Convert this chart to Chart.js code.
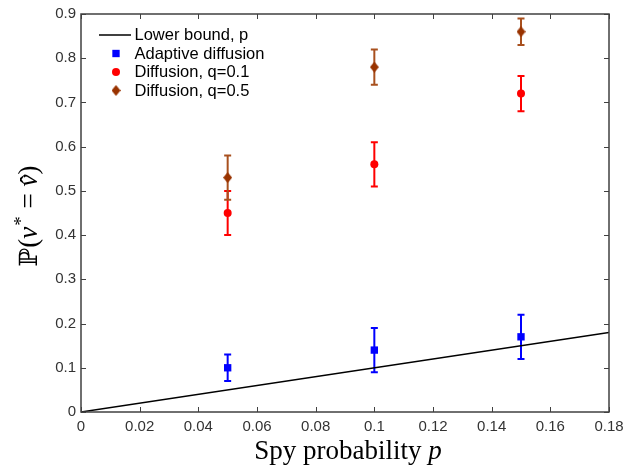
<!DOCTYPE html>
<html>
<head>
<meta charset="utf-8">
<script src="https://cdn.jsdelivr.net/npm/chart.js@4.4.1/dist/chart.umd.min.js"></script>
<style>
  html, body { margin: 0; padding: 0; background: #ffffff; }
  #wrap { width: 638px; height: 465px; }
</style>
</head>
<body>
<div id="wrap"><canvas id="c" width="638" height="465"></canvas></div>
<script>
// ---- data ----
const spyProb = [0.05, 0.10, 0.15];

const adaptiveMean = [0.10, 0.14, 0.17];
const adaptiveLow  = [0.07, 0.09, 0.12];
const adaptiveHigh = [0.13, 0.19, 0.22];

const diffQ01Mean = [0.45, 0.56, 0.72];
const diffQ01Low  = [0.40, 0.51, 0.68];
const diffQ01High = [0.50, 0.61, 0.76];

const diffQ05Mean = [0.53, 0.78, 0.86];
const diffQ05Low  = [0.48, 0.74, 0.83];
const diffQ05High = [0.58, 0.82, 0.89];

const boundX = [0, 0.18];
const boundY = [0, 0.18];

const seriesLabels = ['Lower bound, p', 'Adaptive diffusion', 'Diffusion, q=0.1', 'Diffusion, q=0.5'];
const xTickLabels = ['0', '0.02', '0.04', '0.06', '0.08', '0.1', '0.12', '0.14', '0.16', '0.18'];
const yTickLabels = ['0', '0.1', '0.2', '0.3', '0.4', '0.5', '0.6', '0.7', '0.8', '0.9'];

// ---- helpers ----
function pts(xs, ys) { return xs.map((x, i) => ({ x: x, y: ys[i] })); }

function makeDiamond(w, h, color) {
  const cv = document.createElement('canvas');
  cv.width = w; cv.height = h;
  const g = cv.getContext('2d');
  g.fillStyle = color;
  g.beginPath();
  g.moveTo(w / 2, 0);
  g.lineTo(w, h / 2);
  g.lineTo(w / 2, h);
  g.lineTo(0, h / 2);
  g.closePath();
  g.fill();
  return cv;
}
const diamond = makeDiamond(9, 11, '#993300');

const TICK_FONT = "15px 'Liberation Sans', Arial, sans-serif";

const errorBarsPlugin = {
  id: 'errorBars',
  beforeDatasetsDraw(chart) {
    const ctx = chart.ctx;
    const xs = chart.scales.x, ys = chart.scales.y;
    chart.data.datasets.forEach(ds => {
      if (!ds.errLow) return;
      ctx.save();
      ctx.strokeStyle = ds.errColor;
      ctx.lineWidth = 2;
      ds.data.forEach((p, i) => {
        const px = xs.getPixelForValue(p.x);
        const lo = ys.getPixelForValue(ds.errLow[i]);
        const hi = ys.getPixelForValue(ds.errHigh[i]);
        ctx.beginPath();
        ctx.moveTo(px, lo); ctx.lineTo(px, hi);
        ctx.moveTo(px - 3.5, lo); ctx.lineTo(px + 3.5, lo);
        ctx.moveTo(px - 3.5, hi); ctx.lineTo(px + 3.5, hi);
        ctx.stroke();
      });
      ctx.restore();
    });
  }
};

const framePlugin = {
  id: 'frame',
  afterDatasetsDraw(chart) {
    const ctx = chart.ctx;
    const a = chart.chartArea;
    const xs = chart.scales.x, ys = chart.scales.y;
    ctx.save();
    ctx.strokeStyle = '#404040';
    ctx.lineWidth = 1.5;
    ctx.strokeRect(a.left, a.top, a.right - a.left, a.bottom - a.top);
    ctx.lineWidth = 1;
    ctx.beginPath();
    xs.ticks.forEach(t => {
      const px = Math.round(xs.getPixelForValue(t.value)) + 0.5;
      ctx.moveTo(px, a.bottom); ctx.lineTo(px, a.bottom - 5);
      ctx.moveTo(px, a.top); ctx.lineTo(px, a.top + 5);
    });
    ys.ticks.forEach(t => {
      const py = Math.round(ys.getPixelForValue(t.value)) + 0.5;
      ctx.moveTo(a.left, py); ctx.lineTo(a.left + 5, py);
      ctx.moveTo(a.right, py); ctx.lineTo(a.right - 5, py);
    });
    ctx.stroke();
    ctx.restore();
  }
};

const legendPlugin = {
  id: 'customLegend',
  afterDraw(chart) {
    const ctx = chart.ctx;
    ctx.save();
    ctx.font = "16.5px 'Liberation Sans', Arial, sans-serif";
    ctx.fillStyle = '#000000';
    ctx.textBaseline = 'middle';
    chart.data.datasets.forEach((ds, i) => {
      const y = 35 + i * 18.5;
      if (ds.showLine) {
        ctx.strokeStyle = ds.borderColor;
        ctx.lineWidth = 1.5;
        ctx.beginPath();
        ctx.moveTo(99, y); ctx.lineTo(131, y);
        ctx.stroke();
      } else {
        ctx.fillStyle = ds.backgroundColor;
        Chart.helpers.drawPoint(ctx, { pointStyle: ds.pointStyle, radius: ds.pointRadius, rotation: 0, borderWidth: 0 }, 116, y);
      }
      ctx.fillStyle = '#000000';
      ctx.fillText(ds.label, 134.5, y + 0.5);
    });
    ctx.restore();
  }
};

const titlesPlugin = {
  id: 'axisTitles',
  afterDraw(chart) {
    const ctx = chart.ctx;
    const a = chart.chartArea;
    const up = "27px 'Liberation Serif', 'Times New Roman', serif";
    const it = "italic 27px 'Liberation Serif', 'Times New Roman', serif";
    const sup = "19px 'Liberation Serif', 'Times New Roman', serif";
    const dbl = "25px 'DejaVu Serif', serif";
    ctx.save();
    ctx.fillStyle = '#000000';
    ctx.textBaseline = 'alphabetic';

    // x title: "Spy probability p"
    const s1 = 'Spy probability ', s2 = 'p';
    ctx.font = up; const w1 = ctx.measureText(s1).width;
    ctx.font = it; const w2 = ctx.measureText(s2).width;
    let x0 = (a.left + a.right) / 2 - (w1 + w2) / 2 + 3;
    ctx.font = up; ctx.textAlign = 'left';
    ctx.fillText(s1, x0, 459);
    ctx.font = it; ctx.fillText(s2, x0 + w1, 459);

    // y title: "ℙ(v* = v̂)" rotated
    const segs = [
      { t: 'ℙ', f: dbl, dy: 0 },
      { t: '(', f: up, dy: 0 },
      { t: 'v', f: it, dy: 0 },
      { t: '*', f: sup, dy: -10, pad: 2 },
      { t: ' = ', f: up, dy: 0 },
      { t: 'v', f: it, dy: 0, hat: true },
      { t: ')', f: up, dy: 0 }
    ];
    let total = 0;
    segs.forEach(s => { ctx.font = s.f; s.w = ctx.measureText(s.t).width + (s.pad || 0); total += s.w; });
    ctx.translate(37, (a.top + a.bottom) / 2 + 3);
    ctx.rotate(-Math.PI / 2);
    let cx = -total / 2;
    segs.forEach(s => {
      ctx.font = s.f;
      ctx.fillText(s.t, cx + (s.pad ? 1 : 0), s.dy);
      if (s.hat) {
        ctx.font = up;
        const hw = ctx.measureText('ˆ').width;
        ctx.fillText('ˆ', cx + s.w / 2 - hw / 2 + 1, 2);
      }
      cx += s.w;
    });
    ctx.restore();
  }
};

new Chart(document.getElementById('c'), {
  type: 'scatter',
  data: {
    datasets: [
      {
        label: seriesLabels[0],
        data: pts(boundX, boundY),
        showLine: true,
        borderColor: '#000000',
        backgroundColor: '#000000',
        borderWidth: 1.5,
        pointRadius: 0,
        pointHoverRadius: 0
      },
      {
        label: seriesLabels[1],
        data: pts(spyProb, adaptiveMean),
        errLow: adaptiveLow, errHigh: adaptiveHigh, errColor: '#0000ff',
        pointStyle: 'rect',
        pointRadius: 5.2,
        backgroundColor: '#0000ff',
        borderColor: '#0000ff',
        borderWidth: 0
      },
      {
        label: seriesLabels[2],
        data: pts(spyProb, diffQ01Mean),
        errLow: diffQ01Low, errHigh: diffQ01High, errColor: '#ff0000',
        pointStyle: 'circle',
        pointRadius: 4,
        backgroundColor: '#ff0000',
        borderColor: '#ff0000',
        borderWidth: 0
      },
      {
        label: seriesLabels[3],
        data: pts(spyProb, diffQ05Mean),
        errLow: diffQ05Low, errHigh: diffQ05High, errColor: '#a8501e',
        pointStyle: diamond,
        pointRadius: 5,
        backgroundColor: '#993300',
        borderColor: '#993300',
        borderWidth: 0
      }
    ]
  },
  options: {
    responsive: false,
    animation: false,
    devicePixelRatio: 1,
    layout: { padding: { left: 0, top: 14, right: 29, bottom: 0 } },
    plugins: { legend: { display: false }, tooltip: { enabled: false } },
    scales: {
      x: {
        type: 'linear',
        min: 0, max: 0.18,
        grid: { display: false, drawTicks: false },
        border: { display: false },
        ticks: {
          stepSize: 0.02,
          maxRotation: 0,
          autoSkip: false,
          padding: 6,
          color: '#333333',
          font: { family: "'Liberation Sans', Arial, sans-serif", size: 15 },
          callback: (v, i) => xTickLabels[i]
        },
        afterFit: s => { s.height = 53; }
      },
      y: {
        type: 'linear',
        min: 0, max: 0.9,
        grid: { display: false, drawTicks: false },
        border: { display: false },
        ticks: {
          stepSize: 0.1,
          autoSkip: false,
          padding: 5,
          color: '#333333',
          font: { family: "'Liberation Sans', Arial, sans-serif", size: 15 },
          callback: (v, i) => yTickLabels[i]
        },
        afterFit: s => { s.width = 81; }
      }
    }
  },
  plugins: [errorBarsPlugin, framePlugin, legendPlugin, titlesPlugin]
});
</script>
</body>
</html>
